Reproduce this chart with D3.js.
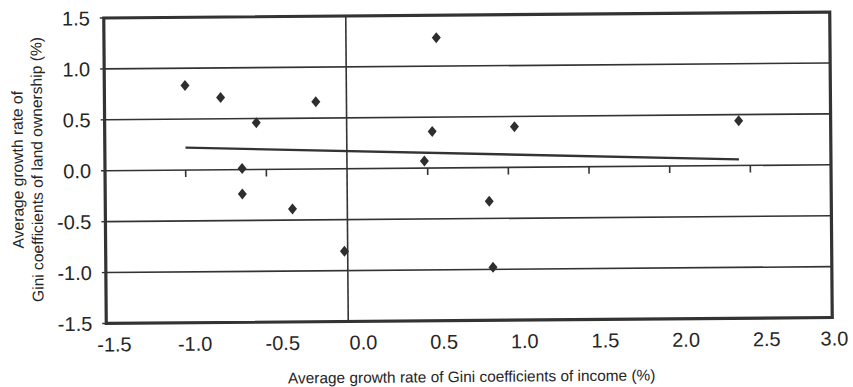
<!DOCTYPE html>
<html>
<head>
<meta charset="utf-8">
<script src="https://cdn.jsdelivr.net/npm/d3@7"></script>
<style>
  body { margin: 0; background: #fff; }
  svg { display: block; }
  text { font-family: "Liberation Sans", Arial, sans-serif; fill: #262626; }
</style>
</head>
<body>
<svg id="chart" width="853" height="387"></svg>
<script>
// data
const incomeGrowth = [-1.00, -0.78, -0.56, -0.65, -0.65, -0.34, -0.19, 0.56, 0.53, 0.48, 1.04, 2.43, 0.88, -0.02, 0.90];
const landGrowth   = [ 0.83,  0.71,  0.46,  0.01, -0.24, -0.39,  0.66, 1.28, 0.36, 0.07, 0.40, 0.44, -0.33, -0.81, -0.98];
const trendX = [-1.0, 2.43];
const trendY = [0.22, 0.06];
const xTicks = [-1.5, -1.0, -0.5, 0.0, 0.5, 1.0, 1.5, 2.0, 2.5, 3.0];
const yTicks = [-1.5, -1.0, -0.5, 0.0, 0.5, 1.0, 1.5];
const gridLines = [-1.0, -0.5, 0.0, 0.5, 1.0];

const W = 853, H = 387;
const pLeft = 105, pRight = 831, pTop = 15, pBottom = 320.5;
const ink = "#333";

const svg = d3.select("#chart");

// the scan is slightly tilted
const g = svg.append("g")
    .attr("transform", `rotate(-0.47, ${(pLeft + pRight) / 2}, ${(pTop + pBottom) / 2})`);

const x = d3.scaleLinear().domain([-1.5, 3.0]).range([pLeft, pRight]);
const y = d3.scaleLinear().domain([-1.5, 1.5]).range([pBottom, pTop]);

// horizontal grid
g.selectAll(".grid")
    .data(gridLines)
    .enter()
    .append("line")
    .attr("x1", pLeft).attr("x2", pRight)
    .attr("y1", d => y(d)).attr("y2", d => y(d))
    .attr("stroke", ink)
    .attr("stroke-width", 1.6);

// vertical line at x = 0
g.append("line")
    .attr("x1", x(0)).attr("x2", x(0))
    .attr("y1", pTop).attr("y2", pBottom)
    .attr("stroke", ink)
    .attr("stroke-width", 1.6);

// tick marks hanging from the zero line
g.selectAll(".xtick")
    .data(xTicks.filter(d => d > -1.5 && d < 3.0 && d !== 0))
    .enter()
    .append("line")
    .attr("x1", d => x(d)).attr("x2", d => x(d))
    .attr("y1", y(0)).attr("y2", y(0) + 7)
    .attr("stroke", ink)
    .attr("stroke-width", 1.6);

// small y ticks left of frame
g.selectAll(".ytick")
    .data(yTicks)
    .enter()
    .append("line")
    .attr("x1", pLeft - 4).attr("x2", pLeft)
    .attr("y1", d => y(d)).attr("y2", d => y(d))
    .attr("stroke", ink)
    .attr("stroke-width", 1.4);

// frame
g.append("rect")
    .attr("x", pLeft).attr("y", pTop)
    .attr("width", pRight - pLeft).attr("height", pBottom - pTop)
    .attr("fill", "none")
    .attr("stroke", ink)
    .attr("stroke-width", 3.2);

// trend line
g.append("line")
    .attr("x1", x(trendX[0])).attr("y1", y(trendY[0]))
    .attr("x2", x(trendX[1])).attr("y2", y(trendY[1]))
    .attr("stroke", ink)
    .attr("stroke-width", 2.4);

// points
const diamond = "M0,-5.5 L4.5,0 L0,5.5 L-4.5,0 Z";
g.selectAll(".pt")
    .data(incomeGrowth.map((v, i) => [v, landGrowth[i]]))
    .enter()
    .append("path")
    .attr("d", diamond)
    .attr("transform", d => `translate(${x(d[0])},${y(d[1])})`)
    .attr("fill", "#2e2e2e");

// tick labels
const fmt = d => d3.format(".1f")(d).replace("−", "-");

g.selectAll(".ylab")
    .data(yTicks)
    .enter()
    .append("text")
    .attr("x", pLeft - 14)
    .attr("y", d => y(d))
    .attr("dy", "0.36em")
    .attr("text-anchor", "end")
    .attr("font-size", 20)
    .text(fmt);

// labels sit a little right of their ticks in the scan
g.selectAll(".xlab")
    .data(xTicks)
    .enter()
    .append("text")
    .attr("x", d => d === 3.0 ? x(d) + 2 : x(d) + (d < -0.5 ? 8 : 15))
    .attr("y", pBottom + 28)
    .attr("text-anchor", "middle")
    .attr("font-size", 20)
    .text(fmt);

// axis titles
g.append("text")
    .attr("x", 470)
    .attr("y", 382)
    .attr("text-anchor", "middle")
    .attr("font-size", 15.4)
    .text("Average growth rate of Gini coefficients of income (%)");

const yt = g.append("text")
    .attr("transform", "translate(23,166) rotate(-90)")
    .attr("text-anchor", "middle")
    .attr("font-size", 15.6);
yt.append("tspan").attr("x", 0).attr("dy", 0).text("Average growth rate of");
yt.append("tspan").attr("x", 0).attr("dy", 19.5).text("Gini coefficients of land ownership (%)");
</script>
</body>
</html>
